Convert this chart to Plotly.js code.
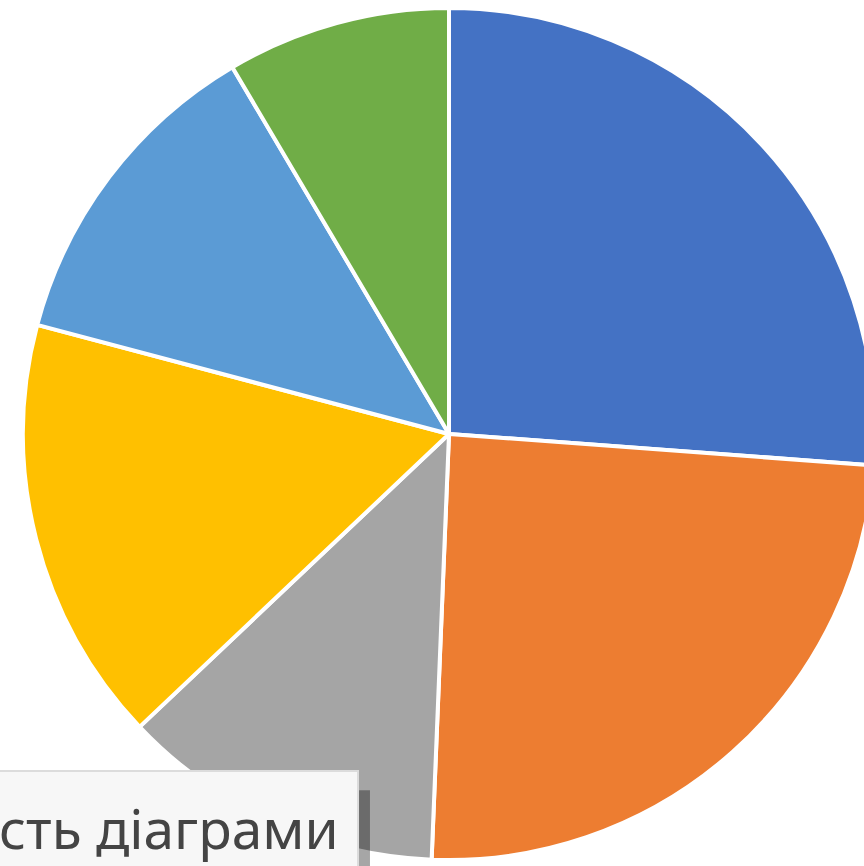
<!DOCTYPE html>
<html>
<head>
<meta charset="utf-8">
<script src="https://cdn.plot.ly/plotly-3.0.1.min.js"></script>
<style>
html,body{margin:0;padding:0;overflow:hidden;background:#fff;}
#chart{width:898px;height:866px;}
</style>
</head>
<body>
<div id="chart"></div>
<script>
const categories = ["Кв. 1", "Кв. 2", "Кв. 3", "Кв. 4", "Кв. 5", "Кв. 6"];
const values = [26.2, 24.5, 12.3, 16.2, 12.4, 8.5];
const colors = ["#4472C4", "#ED7D31", "#A5A5A5", "#FFC000", "#5B9BD5", "#70AD47"];
const tooltipText = "сть діаграми";

const trace = {
  type: "pie",
  labels: categories,
  values: values,
  sort: false,
  direction: "clockwise",
  rotation: 0,
  textinfo: "none",
  hoverinfo: "none",
  marker: {colors: colors, line: {color: "#FFFFFF", width: 4}},
  domain: {x: [0, 1], y: [0, 1]}
};

const layout = {
  width: 898,
  height: 866,
  margin: {l: 0, r: 0, t: 8, b: 6, pad: 0},
  showlegend: false,
  paper_bgcolor: "#FFFFFF",
  shapes: [
    {type: "rect", xref: "paper", yref: "paper", layer: "above",
     x0: -0.05, x1: 0.412, y0: -0.05, y1: 0.082,
     fillcolor: "rgba(0,0,0,0.35)", line: {width: 0}},
    {type: "rect", xref: "paper", yref: "paper", layer: "above",
     x0: -0.05, x1: 0.3987, y0: -0.05, y1: 0.1045,
     fillcolor: "#F7F7F7", line: {color: "#DCDCDC", width: 2}}
  ],
  annotations: [
    {text: tooltipText, xref: "paper", yref: "paper", x: 0, y: 0.038,
     xanchor: "left", yanchor: "middle", showarrow: false, xshift: -3,
     font: {family: "Noto Sans, Open Sans, sans-serif", size: 55, color: "#444444"}}
  ]
};

Plotly.newPlot("chart", [trace], layout, {displayModeBar: false, staticPlot: true});
</script>
</body>
</html>
